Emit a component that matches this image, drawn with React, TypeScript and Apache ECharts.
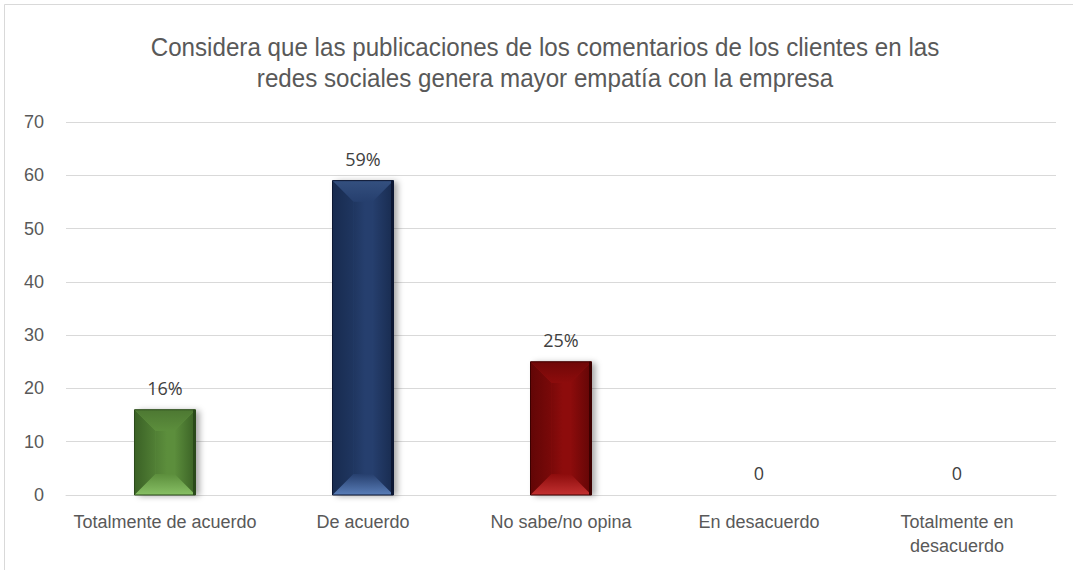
import React, { useEffect, useRef } from "react";
import * as echarts from "echarts";

const titleText =
  "Considera que las publicaciones de los comentarios de los clientes en las\nredes sociales genera mayor empatía con la empresa";
const categories = [
  "Totalmente de acuerdo",
  "De acuerdo",
  "No sabe/no opina",
  "En desacuerdo",
  "Totalmente en\ndesacuerdo",
];
const values = [16, 59, 25, 0, 0];
const valueLabels = ["16%", "59%", "25%", "0", "0"];
const yMin = 0;
const yMax = 70;
const yInterval = 10;

const palette = [
  { main: "#5c8e3c", left: "#517f35", right: "#3a6125", top: "#4d7832", bottom: "#88c065", edge: "#2a4a1a" },
  { main: "#263f6e", left: "#1f3660", right: "#182b4f", top: "#34507f", bottom: "#5a7eb8", edge: "#0c1733" },
  { main: "#8d0c0c", left: "#7a0909", right: "#620606", top: "#700808", bottom: "#c33131", edge: "#3c0000" },
  { main: "#888888", left: "#777777", right: "#666666", top: "#777777", bottom: "#aaaaaa", edge: "#444444" },
  { main: "#888888", left: "#777777", right: "#666666", top: "#777777", bottom: "#aaaaaa", edge: "#444444" },
];

const BAR_W = 61;
const SANS = "'Liberation Sans', Arial, sans-serif";

export default function App() {
  const ref = useRef<HTMLDivElement>(null);
  useEffect(() => {
    if (!ref.current) return;
    const chart = echarts.init(ref.current, undefined, { renderer: "svg" });
    const option: any = {
      animation: false,
      backgroundColor: "#ffffff",
      graphic: [
        {
          type: "rect",
          shape: { x: 4.5, y: 4.5, width: 1200, height: 700 },
          style: { fill: "none", stroke: "#d9d9d9", lineWidth: 1 },
          silent: true,
          z: -10,
        },
        {
          type: "text",
          x: 545,
          y: 31.5,
          scaleX: 0.93,
          silent: true,
          style: {
            text: titleText,
            textAlign: "center",
            textVerticalAlign: "top",
            fontFamily: SANS,
            fontSize: 26,
            lineHeight: 31,
            fill: "#595959",
          },
        },
      ],
      grid: { left: 66, right: 17, top: 122, bottom: 75, containLabel: false },
      xAxis: {
        type: "category",
        data: categories,
        axisLine: { show: true, lineStyle: { color: "#d9d9d9", width: 1 } },
        axisTick: { show: false },
        axisLabel: {
          interval: 0,
          margin: 15,
          fontFamily: SANS,
          fontSize: 18,
          color: "#595959",
          lineHeight: 24,
        },
      },
      yAxis: {
        type: "value",
        min: yMin,
        max: yMax,
        interval: yInterval,
        axisLine: { show: false },
        axisTick: { show: false },
        splitLine: { lineStyle: { color: "#d9d9d9", width: 1 } },
        axisLabel: {
          margin: 22,
          fontFamily: SANS,
          fontSize: 18,
          color: "#595959",
        },
      },
      series: [
        {
          type: "bar",
          barWidth: BAR_W,
          data: values.map((v, i) => ({
            value: v,
            itemStyle: {
              color: palette[i].main,
              shadowColor: "rgba(0,0,0,0.35)",
              shadowBlur: 6,
              shadowOffsetX: 4,
              shadowOffsetY: 1,
            },
          })),
          label: {
            show: true,
            position: "top",
            distance: 13,
            formatter: (p: any) => valueLabels[p.dataIndex],
            fontFamily: "'Open Sans', 'Noto Sans', sans-serif",
            fontSize: 18,
            color: "#404040",
          },
          z: 2,
        },
        {
          type: "custom",
          z: 3,
          silent: true,
          data: values.map((v, i) => [i, v]),
          renderItem: (params: any, api: any) => {
            const i = params.dataIndex;
            const v = api.value(1);
            if (!v) return null;
            const c = palette[i];
            const top = api.coord([api.value(0), v]);
            const base = api.coord([api.value(0), 0]);
            const x0 = top[0] - BAR_W / 2;
            const x1 = top[0] + BAR_W / 2;
            const y0 = top[1];
            const y1 = base[1];
            const h = y1 - y0;
            const d = Math.min(21, h / 2);
            const ix0 = x0 + d;
            const ix1 = x1 - d;
            const iy0 = y0 + d;
            const iy1 = y1 - d;
            return {
              type: "group",
              children: [
                {
                  type: "polygon",
                  shape: { points: [[x0, y0], [x0, y1], [ix0, iy1], [ix0, iy0]] },
                  style: {
                    fill: new echarts.graphic.LinearGradient(0, 0, 1, 0, [
                      { offset: 0, color: c.right },
                      { offset: 1, color: c.left },
                    ]),
                  },
                },
                {
                  type: "polygon",
                  shape: { points: [[x1, y0], [x1, y1], [ix1, iy1], [ix1, iy0]] },
                  style: {
                    fill: new echarts.graphic.LinearGradient(0, 0, 1, 0, [
                      { offset: 0, color: c.main },
                      { offset: 1, color: c.right },
                    ]),
                  },
                },
                {
                  type: "rect",
                  shape: { x: ix0, y: iy0, width: ix1 - ix0, height: Math.max(0, iy1 - iy0) },
                  style: {
                    fill: new echarts.graphic.LinearGradient(0, 0, 1, 0, [
                      { offset: 0, color: c.left },
                      { offset: 0.6, color: c.main },
                      { offset: 1, color: c.main },
                    ]),
                  },
                },
                {
                  type: "polygon",
                  shape: { points: [[x0, y0], [x1, y0], [ix1, iy0], [ix0, iy0]] },
                  style: {
                    fill: new echarts.graphic.LinearGradient(0, 0, 0, 1, [
                      { offset: 0, color: c.top },
                      { offset: 1, color: c.main },
                    ]),
                  },
                },
                {
                  type: "polygon",
                  shape: { points: [[x0, y1], [x1, y1], [ix1, iy1], [ix0, iy1]] },
                  style: {
                    fill: new echarts.graphic.LinearGradient(0, 0, 0, 1, [
                      { offset: 0, color: c.main },
                      { offset: 1, color: c.bottom },
                    ]),
                  },
                },
                {
                  type: "rect",
                  shape: { x: x0, y: y0, width: BAR_W, height: h },
                  style: { fill: "none", stroke: c.edge, lineWidth: 1 },
                },
                {
                  type: "line",
                  shape: { x1: x1 - 1.5, y1: y0, x2: x1 - 1.5, y2: y1 },
                  style: { stroke: c.edge, lineWidth: 2 },
                },
              ],
            };
          },
        },
      ],
    };
    chart.setOption(option);
    return () => chart.dispose();
  }, []);
  return (
    <div
      ref={ref}
      style={{ position: "fixed", left: 0, top: 0, width: 1073, height: 570 }}
    />
  );
}
